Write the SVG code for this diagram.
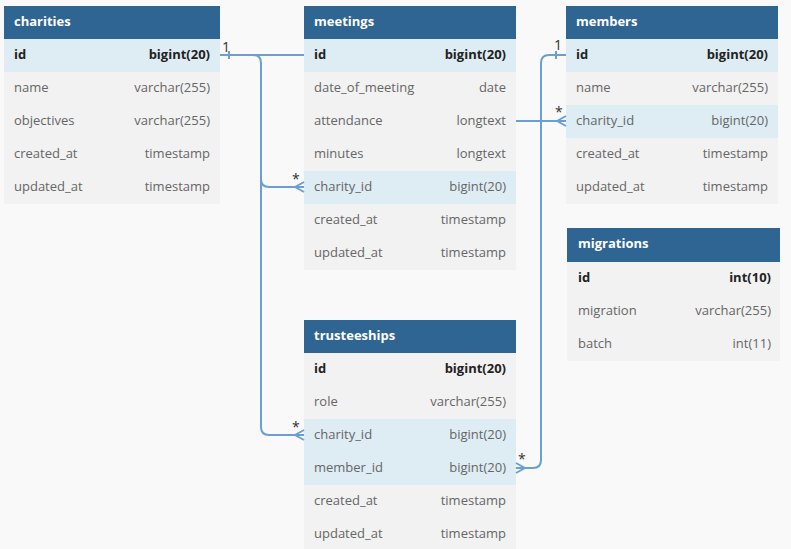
<svg xmlns="http://www.w3.org/2000/svg" width="791" height="549" viewBox="0 0 791 549">
<style>
.hd{fill:#2f6592}
.r{fill:#f2f2f2}
.k{fill:#deecf4}
.ht{font-family:"Open Sans",sans-serif;font-size:13px;font-weight:bold;fill:#ffffff}
.n{font-family:"Open Sans",sans-serif;font-size:13px;fill:#666666}
.t{font-family:"Open Sans",sans-serif;font-size:13px;fill:#666666;text-anchor:end}
.nb{font-family:"Open Sans",sans-serif;font-size:13px;font-weight:bold;fill:#222222}
.tb{font-family:"Open Sans",sans-serif;font-size:13px;font-weight:bold;fill:#222222;text-anchor:end}
.c{fill:none;stroke:#6a9fd3;stroke-width:2}
.lb{font-family:"Open Sans",sans-serif;font-size:14px;fill:#333333}
</style>
<rect width="791" height="549" fill="#f9f9f9"/>

<g id="charities">
<rect class="hd" x="4" y="6" width="216" height="33"/>
<text class="ht" x="14" y="26">charities</text>
<rect class="k" x="4" y="39" width="216" height="33"/>
<rect class="r" x="4" y="72" width="216" height="132"/>
<text class="nb" x="14" y="59">id</text><text class="tb" x="210" y="59">bigint(20)</text>
<text class="n" x="14" y="92">name</text><text class="t" x="210" y="92">varchar(255)</text>
<text class="n" x="14" y="125">objectives</text><text class="t" x="210" y="125">varchar(255)</text>
<text class="n" x="14" y="158">created_at</text><text class="t" x="210" y="158">timestamp</text>
<text class="n" x="14" y="191">updated_at</text><text class="t" x="210" y="191">timestamp</text>
</g>

<g id="meetings">
<rect class="hd" x="304" y="6" width="212" height="33"/>
<text class="ht" x="314" y="26">meetings</text>
<rect class="k" x="304" y="39" width="212" height="33"/>
<rect class="r" x="304" y="72" width="212" height="99"/>
<rect class="k" x="304" y="171" width="212" height="33"/>
<rect class="r" x="304" y="204" width="212" height="66"/>
<text class="nb" x="314" y="59">id</text><text class="tb" x="506" y="59">bigint(20)</text>
<text class="n" x="314" y="92">date_of_meeting</text><text class="t" x="506" y="92">date</text>
<text class="n" x="314" y="125">attendance</text><text class="t" x="506" y="125">longtext</text>
<text class="n" x="314" y="158">minutes</text><text class="t" x="506" y="158">longtext</text>
<text class="n" x="314" y="191">charity_id</text><text class="t" x="506" y="191">bigint(20)</text>
<text class="n" x="314" y="224">created_at</text><text class="t" x="506" y="224">timestamp</text>
<text class="n" x="314" y="257">updated_at</text><text class="t" x="506" y="257">timestamp</text>
</g>

<g id="members">
<rect class="hd" x="566" y="6" width="212" height="33"/>
<text class="ht" x="576" y="26">members</text>
<rect class="k" x="566" y="39" width="212" height="33"/>
<rect class="r" x="566" y="72" width="212" height="33"/>
<rect class="k" x="566" y="105" width="212" height="33"/>
<rect class="r" x="566" y="138" width="212" height="66"/>
<text class="nb" x="576" y="59">id</text><text class="tb" x="768" y="59">bigint(20)</text>
<text class="n" x="576" y="92">name</text><text class="t" x="768" y="92">varchar(255)</text>
<text class="n" x="576" y="125">charity_id</text><text class="t" x="768" y="125">bigint(20)</text>
<text class="n" x="576" y="158">created_at</text><text class="t" x="768" y="158">timestamp</text>
<text class="n" x="576" y="191">updated_at</text><text class="t" x="768" y="191">timestamp</text>
</g>

<g id="migrations">
<rect class="hd" x="567" y="228" width="213" height="34"/>
<text class="ht" x="578" y="248">migrations</text>
<rect class="r" x="567" y="262" width="213" height="99"/>
<text class="nb" x="578" y="282">id</text><text class="tb" x="771" y="282">int(10)</text>
<text class="n" x="578" y="315">migration</text><text class="t" x="771" y="315">varchar(255)</text>
<text class="n" x="578" y="348">batch</text><text class="t" x="771" y="348">int(11)</text>
</g>

<g id="trusteeships">
<rect class="hd" x="304" y="320" width="212" height="33"/>
<text class="ht" x="314" y="340">trusteeships</text>
<rect class="r" x="304" y="353" width="212" height="66"/>
<rect class="k" x="304" y="419" width="212" height="66"/>
<rect class="r" x="304" y="485" width="212" height="66"/>
<text class="nb" x="314" y="373">id</text><text class="tb" x="506" y="373">bigint(20)</text>
<text class="n" x="314" y="406">role</text><text class="t" x="506" y="406">varchar(255)</text>
<text class="n" x="314" y="439">charity_id</text><text class="t" x="506" y="439">bigint(20)</text>
<text class="n" x="314" y="472">member_id</text><text class="t" x="506" y="472">bigint(20)</text>
<text class="n" x="314" y="505">created_at</text><text class="t" x="506" y="505">timestamp</text>
<text class="n" x="314" y="538">updated_at</text><text class="t" x="506" y="538">timestamp</text>
</g>

<g id="connectors">
<path class="c" d="M220 55 H304"/>
<path class="c" d="M229 51 V59"/>
<text class="lb" x="222" y="52">1</text>
<path class="c" d="M220 55 H253 Q261 55 261 63 V179 Q261 187 269 187 H304"/>
<path class="c" d="M295 187 L304 182 M295 187 L304 192"/>
<text class="lb" x="292" y="184">*</text>
<path class="c" d="M261 179 V427 Q261 435 269 435 H304"/>
<path class="c" d="M295 435 L304 430 M295 435 L304 440"/>
<text class="lb" x="292" y="432">*</text>
<path class="c" d="M566 55 H549 Q541 55 541 63 V460 Q541 468 533 468 H516"/>
<path class="c" d="M556 51 V59"/>
<text class="lb" x="554" y="50">1</text>
<path class="c" d="M525 468 L516 463 M525 468 L516 473"/>
<text class="lb" x="518" y="464">*</text>
<path class="c" d="M516 121 H566"/>
<path class="c" d="M557 121 L566 116 M557 121 L566 126"/>
<text class="lb" x="555" y="117">*</text>
</g>
</svg>
